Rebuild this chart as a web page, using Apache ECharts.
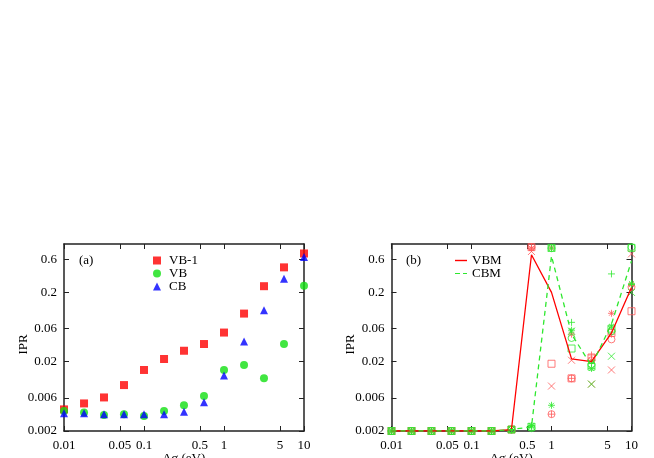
<!DOCTYPE html>
<html><head><meta charset="utf-8">
<script src="https://cdn.jsdelivr.net/npm/echarts@6/dist/echarts.min.js"></script>
<style>html,body{margin:0;padding:0;background:#fff}#c{width:654px;height:458px}</style>
</head><body><div id="c"></div>
<script>
// ---- data ----
const deltaSigma = [0.01, 0.0178, 0.0316, 0.0562, 0.1, 0.178, 0.316, 0.562, 1, 1.78, 3.16, 5.62, 10];
const xTickValues = [0.01, 0.05, 0.1, 0.5, 1, 5, 10];
const yTickValues = [0.002, 0.006, 0.02, 0.06, 0.2, 0.6];
const xRange = [0.01, 10];
const yRange = [0.002, 1];

// panel (a)
const vb1 = [0.0041, 0.0050, 0.0061, 0.0092, 0.0152, 0.0219, 0.0288, 0.0360, 0.0527, 0.0990, 0.246, 0.46, 0.73];
const vb  = [0.0039, 0.0037, 0.0034, 0.0035, 0.0033, 0.0039, 0.0047, 0.0064, 0.0152, 0.0179, 0.0115, 0.036, 0.25];
const cb  = [0.0036, 0.0036, 0.0035, 0.0035, 0.0035, 0.0035, 0.0038, 0.0052, 0.0126, 0.039, 0.111, 0.316, 0.65];

// panel (b) samples
const vbmPlus   = [0.002, 0.002, 0.002, 0.002, 0.002, 0.002, 0.0021, 0.90, 0.0035, 0.0115, 0.025, 0.050, 0.25];
const vbmCross  = [0.002, 0.002, 0.002, 0.002, 0.002, 0.002, 0.0021, 0.78, 0.0089, 0.021, 0.0095, 0.0152, 0.72];
const vbmStar   = [0.002, 0.002, 0.002, 0.002, 0.002, 0.002, 0.0021, 0.86, 0.88, 0.050, 0.021, 0.100, 0.26];
const vbmSquare = [0.002, 0.002, 0.002, 0.002, 0.002, 0.002, 0.0021, 0.90, 0.0187, 0.0115, 0.023, 0.052, 0.107];
const vbmCircle = [0.002, 0.002, 0.002, 0.002, 0.002, 0.002, 0.0021, 0.90, 0.0035, 0.0115, 0.021, 0.042, 0.24];
const cbmPlus   = [0.002, 0.002, 0.002, 0.002, 0.002, 0.002, 0.0021, 0.0023, 0.87, 0.074, 0.019, 0.37, 0.26];
const cbmCross  = [0.002, 0.002, 0.002, 0.002, 0.002, 0.002, 0.0021, 0.0023, 0.87, 0.055, 0.0095, 0.024, 0.20];
const cbmStar   = [0.002, 0.002, 0.002, 0.002, 0.002, 0.002, 0.0021, 0.0024, 0.0047, 0.057, 0.016, 0.065, 0.27];
const cbmSquare = [0.002, 0.002, 0.002, 0.002, 0.002, 0.002, 0.0021, 0.0023, 0.88, 0.031, 0.017, 0.060, 0.88];
const cbmCircle = [0.002, 0.002, 0.002, 0.002, 0.002, 0.002, 0.0021, 0.0022, 0.87, 0.044, 0.018, 0.055, 0.90];
// panel (b) lines
const vbmLine = [0.002, 0.002, 0.002, 0.002, 0.002, 0.002, 0.0021, 0.70, 0.20, 0.022, 0.020, 0.052, 0.235];
const cbmLine = [0.002, 0.002, 0.002, 0.002, 0.002, 0.002, 0.0021, 0.0023, 0.67, 0.050, 0.0175, 0.070, 0.57];

// ---- build ----
const L = Math.log10;
const pts = ys => deltaSigma.map((x, i) => [L(x), L(ys[i])]);
const FONT = 'Liberation Serif';
const AX = '#222';
const fmt = v => String(Number(Math.pow(10, v).toPrecision(3)));
const xTicksLog = xTickValues.map(L);
const yTicksLog = yTickValues.map(L);

function xAxisDef(grid, pos) {
  const bottom = pos === 'bottom';
  return {
    type: 'value', gridIndex: grid, position: pos,
    min: L(xRange[0]), max: L(xRange[1]),
    name: bottom ? 'Δσ (eV)' : '', nameLocation: 'middle', nameGap: 21, nameMoveOverlap: false,
    nameTextStyle: {fontFamily: FONT, fontSize: 13, color: '#000'},
    axisLine: {show: true, onZero: false, lineStyle: {color: AX, width: 1.5}},
    axisTick: {show: true, inside: true, length: 5, customValues: xTicksLog, lineStyle: {color: AX, width: 1}},
    axisLabel: {show: bottom, customValues: xTicksLog, formatter: fmt, fontFamily: FONT, fontSize: 13, color: '#000', margin: 8},
    splitLine: {show: false}
  };
}
function yAxisDef(grid, pos) {
  const left = pos === 'left';
  return {
    type: 'value', gridIndex: grid, position: pos,
    min: L(yRange[0]), max: L(yRange[1]),
    name: left ? 'IPR' : '', nameLocation: 'middle', nameGap: 34, nameMoveOverlap: false,
    nameTextStyle: {fontFamily: FONT, fontSize: 13, color: '#000', padding: [0, 14, 0, 0]},
    axisLine: {show: true, onZero: false, lineStyle: {color: AX, width: 1.5}},
    axisTick: {show: true, inside: true, length: 5, customValues: yTicksLog, lineStyle: {color: AX, width: 1}},
    axisLabel: {show: left, customValues: yTicksLog, formatter: fmt, fontFamily: FONT, fontSize: 13, color: '#000', margin: 7},
    splitLine: {show: false}
  };
}

const SYM = {
  plus: 'path://M5,0L5,10M0,5L10,5',
  cross: 'path://M0,0L10,10M10,0L0,10',
  star: 'path://M5,0L5,10M0,5L10,5M1.5,1.5L8.5,8.5M8.5,1.5L1.5,8.5',
  square: 'rect',
  circle: 'circle'
};
const RED_M = '#ff5a5a', GREEN_M = '#2ee82e';
function sampleSeries(name, ys, sym, col) {
  return {
    type: 'scatter', name: name, xAxisIndex: 2, yAxisIndex: 2,
    data: pts(ys), symbol: SYM[sym], symbolSize: 7, silent: true,
    itemStyle: {color: 'rgba(0,0,0,0)', borderColor: col, borderWidth: 1},
    emphasis: {disabled: true}
  };
}

const series = [
  {type: 'scatter', name: 'VB-1', xAxisIndex: 0, yAxisIndex: 0, data: pts(vb1), symbol: 'rect', symbolSize: 8, itemStyle: {color: '#ff0000'}},
  {type: 'scatter', name: 'VB', xAxisIndex: 0, yAxisIndex: 0, data: pts(vb), symbol: 'circle', symbolSize: 8, itemStyle: {color: '#11e011'}},
  {type: 'scatter', name: 'CB', xAxisIndex: 0, yAxisIndex: 0, data: pts(cb), symbol: 'triangle', symbolSize: 8, itemStyle: {color: '#0000ff'}},
  sampleSeries('vbm+', vbmPlus, 'plus', RED_M),
  sampleSeries('vbmx', vbmCross, 'cross', RED_M),
  sampleSeries('vbm*', vbmStar, 'star', RED_M),
  sampleSeries('vbm□', vbmSquare, 'square', RED_M),
  sampleSeries('vbm○', vbmCircle, 'circle', RED_M),
  sampleSeries('cbm+', cbmPlus, 'plus', GREEN_M),
  sampleSeries('cbmx', cbmCross, 'cross', GREEN_M),
  sampleSeries('cbm*', cbmStar, 'star', GREEN_M),
  sampleSeries('cbm□', cbmSquare, 'square', GREEN_M),
  sampleSeries('cbm○', cbmCircle, 'circle', GREEN_M),
  {type: 'line', name: 'VBM', xAxisIndex: 2, yAxisIndex: 2, data: pts(vbmLine), symbol: 'none', silent: true,
   lineStyle: {color: '#ff0000', width: 1.3}, itemStyle: {color: '#ff0000'}},
  {type: 'line', name: 'CBM', xAxisIndex: 2, yAxisIndex: 2, data: pts(cbmLine), symbol: 'none', silent: true,
   lineStyle: {color: '#2ee82e', width: 1.3, type: [5, 4]}, itemStyle: {color: '#2ee82e'}}
];

const legendText = {fontFamily: FONT, fontSize: 13, color: '#000', lineHeight: 13};
const option = {
  backgroundColor: '#fff',
  animation: false,
  title: [
    {text: '(a)', left: 79, top: 254, padding: 0, textStyle: {fontFamily: FONT, fontSize: 13, fontWeight: 'normal', color: '#000', lineHeight: 13}},
    {text: '(b)', left: 406, top: 254, padding: 0, textStyle: {fontFamily: FONT, fontSize: 13, fontWeight: 'normal', color: '#000', lineHeight: 13}}
  ],
  legend: [
    {data: ['VB-1', 'VB', 'CB'], orient: 'vertical', left: 153, top: 254, padding: 0, itemGap: 0,
     itemWidth: 8, itemHeight: 8, textStyle: Object.assign({padding: [0, 0, 0, 3]}, legendText), selectedMode: false},
    {data: [{name: 'VBM', icon: 'rect'}, {name: 'CBM', icon: 'path://M0,0H5V1.2H0ZM8,0H12V1.2H8Z'}],
     orient: 'vertical', left: 455, top: 254, padding: 0, itemGap: 0,
     itemWidth: 12, itemHeight: 1.4, textStyle: legendText, selectedMode: false}
  ],
  grid: [
    {left: 64, width: 240, top: 244, height: 187, outerBoundsMode: 'none', containLabel: false},
    {left: 391.5, width: 240, top: 244, height: 187, outerBoundsMode: 'none', containLabel: false}
  ],
  xAxis: [xAxisDef(0, 'bottom'), xAxisDef(0, 'top'), xAxisDef(1, 'bottom'), xAxisDef(1, 'top')],
  yAxis: [yAxisDef(0, 'left'), yAxisDef(0, 'right'), yAxisDef(1, 'left'), yAxisDef(1, 'right')],
  series: series
};
const chart = echarts.init(document.getElementById('c'), null, {renderer: 'canvas'});
chart.setOption(option);
</script>
</body></html>
